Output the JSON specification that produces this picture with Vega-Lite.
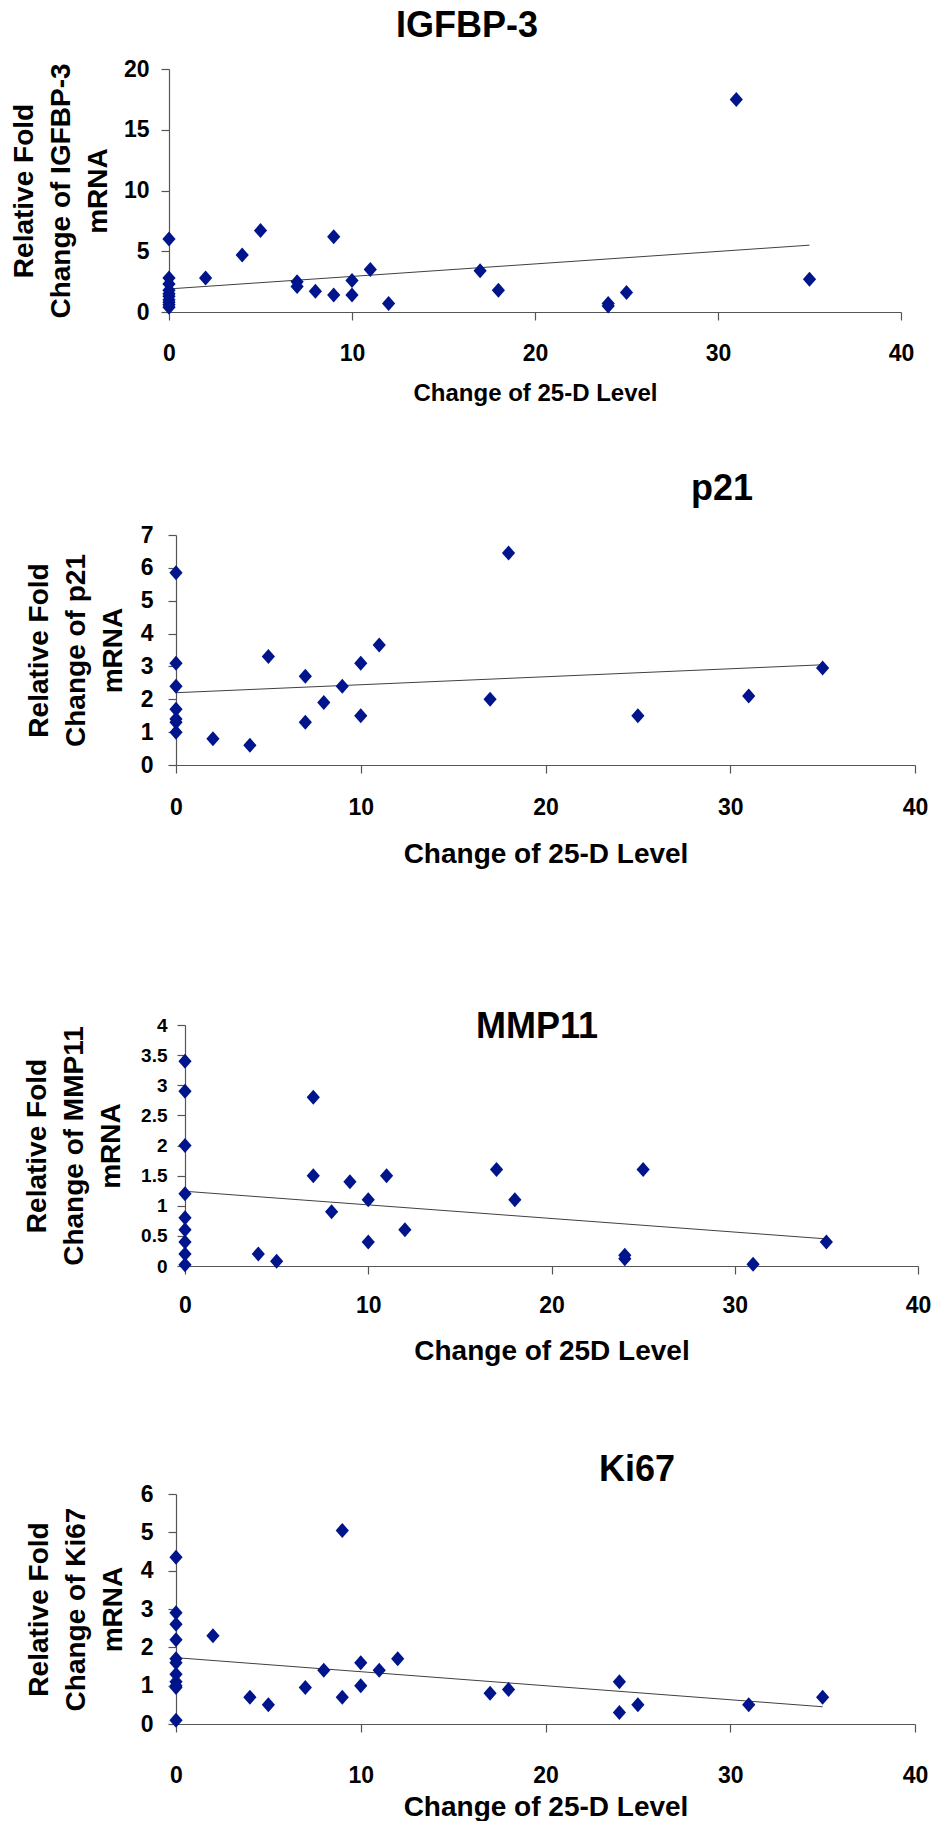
{
  "$schema": "https://vega.github.io/schema/vega-lite/v6.json",
  "background": "white",
  "padding": {"left": 10, "top": 8, "right": 0, "bottom": 0},
  "bounds": "flush",
  "spacing": 200,
  "config": {
    "view": {"stroke": null},
    "font": "Liberation Sans",
    "axis": {
      "grid": false,
      "domainColor": "#555555",
      "domainWidth": 1.2,
      "tickColor": "#555555",
      "tickWidth": 1.2,
      "tickSize": 8,
      "labelColor": "#000000",
      "titleColor": "#000000",
      "labelFont": "Liberation Sans",
      "titleFont": "Liberation Sans",
      "labelFontWeight": "bold",
      "titleFontWeight": "bold",
      "labelFlush": false,
      "labelOverlap": false
    }
  },
  "datasets": {
    "igf": [
      {"x": 0, "y": 6.0}, {"x": 0, "y": 2.8}, {"x": 0, "y": 2.3}, {"x": 0, "y": 1.8}, {"x": 0, "y": 1.5},
      {"x": 0, "y": 1.3}, {"x": 0, "y": 1.0}, {"x": 0, "y": 0.8}, {"x": 0, "y": 0.6}, {"x": 0, "y": 0.4},
      {"x": 2, "y": 2.8}, {"x": 4, "y": 4.7}, {"x": 5, "y": 6.7}, {"x": 7, "y": 2.5}, {"x": 7, "y": 2.1},
      {"x": 8, "y": 1.7}, {"x": 9, "y": 6.2}, {"x": 9, "y": 1.4}, {"x": 10, "y": 2.6}, {"x": 10, "y": 1.4},
      {"x": 11, "y": 3.5}, {"x": 12, "y": 0.7}, {"x": 17, "y": 3.4}, {"x": 18, "y": 1.8}, {"x": 24, "y": 0.7},
      {"x": 24, "y": 0.5}, {"x": 25, "y": 1.6}, {"x": 31, "y": 17.5}, {"x": 35, "y": 2.7}
    ],
    "igf_trend": [{"x": 0, "y": 1.9}, {"x": 35, "y": 5.5}],
    "p21": [
      {"x": 0, "y": 5.85}, {"x": 0, "y": 3.1}, {"x": 0, "y": 2.4}, {"x": 0, "y": 1.7}, {"x": 0, "y": 1.4},
      {"x": 0, "y": 1.3}, {"x": 0, "y": 1.0}, {"x": 2, "y": 0.8}, {"x": 4, "y": 0.6}, {"x": 5, "y": 3.3},
      {"x": 7, "y": 2.7}, {"x": 7, "y": 1.3}, {"x": 8, "y": 1.9}, {"x": 9, "y": 2.4}, {"x": 10, "y": 3.1},
      {"x": 10, "y": 1.5}, {"x": 11, "y": 3.65}, {"x": 17, "y": 2.0}, {"x": 18, "y": 6.45}, {"x": 25, "y": 1.5},
      {"x": 31, "y": 2.1}, {"x": 35, "y": 2.95}
    ],
    "p21_trend": [{"x": 0, "y": 2.2}, {"x": 35, "y": 3.05}],
    "mmp": [
      {"x": 0, "y": 3.4}, {"x": 0, "y": 2.9}, {"x": 0, "y": 2.0}, {"x": 0, "y": 1.2}, {"x": 0, "y": 0.8},
      {"x": 0, "y": 0.6}, {"x": 0, "y": 0.4}, {"x": 0, "y": 0.2}, {"x": 0, "y": 0.02}, {"x": 4, "y": 0.2},
      {"x": 5, "y": 0.08}, {"x": 7, "y": 2.8}, {"x": 7, "y": 1.5}, {"x": 8, "y": 0.9}, {"x": 9, "y": 1.4},
      {"x": 10, "y": 1.1}, {"x": 10, "y": 0.4}, {"x": 11, "y": 1.5}, {"x": 12, "y": 0.6}, {"x": 17, "y": 1.6},
      {"x": 18, "y": 1.1}, {"x": 24, "y": 0.18}, {"x": 24, "y": 0.12}, {"x": 25, "y": 1.6}, {"x": 31, "y": 0.03},
      {"x": 35, "y": 0.4}
    ],
    "mmp_trend": [{"x": 0, "y": 1.24}, {"x": 35, "y": 0.45}],
    "ki": [
      {"x": 0, "y": 4.35}, {"x": 0, "y": 2.9}, {"x": 0, "y": 2.6}, {"x": 0, "y": 2.2}, {"x": 0, "y": 1.7},
      {"x": 0, "y": 1.6}, {"x": 0, "y": 1.3}, {"x": 0, "y": 1.1}, {"x": 0, "y": 1.0}, {"x": 0, "y": 0.95},
      {"x": 0, "y": 0.1}, {"x": 2, "y": 2.3}, {"x": 4, "y": 0.7}, {"x": 5, "y": 0.5}, {"x": 7, "y": 0.95},
      {"x": 8, "y": 1.4}, {"x": 9, "y": 5.05}, {"x": 9, "y": 0.7}, {"x": 10, "y": 1.6}, {"x": 10, "y": 1.0},
      {"x": 11, "y": 1.4}, {"x": 12, "y": 1.7}, {"x": 17, "y": 0.8}, {"x": 18, "y": 0.9}, {"x": 24, "y": 1.1},
      {"x": 24, "y": 0.3}, {"x": 25, "y": 0.5}, {"x": 31, "y": 0.5}, {"x": 35, "y": 0.7}
    ],
    "ki_trend": [{"x": 0, "y": 1.73}, {"x": 35, "y": 0.45}]
  },
  "vconcat": [
    {
      "width": 750,
      "height": 243,
      "title": {"text": "IGFBP-3", "anchor": "start", "frame": "group", "dx": 227, "dy": 15, "offset": 0, "baseline": "alphabetic", "fontSize": 36, "fontWeight": "bold", "font": "Liberation Sans", "color": "#000000"},
      "encoding": {
        "x": {"field": "x", "type": "quantitative",
              "scale": {"domain": [0, 40], "range": [0, 732], "nice": false, "zero": false},
              "axis": {"values": [0, 10, 20, 30, 40], "labelFontSize": 23, "labelPadding": 40, "labelBaseline": "alphabetic",
                       "title": "Change of 25-D Level", "titleFontSize": 24, "titleBaseline": "alphabetic", "titleY": 88}},
        "y": {"field": "y", "type": "quantitative",
              "scale": {"domain": [0, 20], "range": [243, 0], "nice": false, "zero": false},
              "axis": {"values": [0, 5, 10, 15, 20], "labelFontSize": 23, "labelPadding": 12,
                       "title": ["Relative Fold", "Change of IGFBP-3", "mRNA"], "titleFontSize": 28, "titleLineHeight": 37,
                       "titleAngle": 270, "titleBaseline": "alphabetic", "titleAlign": "center", "titleX": -137}}
      },
      "layer": [
        {"data": {"name": "igf_trend"}, "mark": {"type": "line", "color": "#404040", "strokeWidth": 1}, "encoding": {}},
        {"data": {"name": "igf"}, "mark": {"type": "point", "shape": "M0,-1L0.88,0L0,1L-0.88,0Z", "filled": true, "size": 225, "color": "#00148C", "opacity": 1}, "encoding": {}}
      ]
    },
    {
      "width": 750,
      "height": 253,
      "title": {"text": "p21", "anchor": "start", "frame": "group", "dx": 522, "dy": 23.5, "offset": 0, "baseline": "alphabetic", "fontSize": 36, "fontWeight": "bold", "font": "Liberation Sans", "color": "#000000"},
      "encoding": {
        "x": {"field": "x", "type": "quantitative",
              "scale": {"domain": [0, 40], "range": [7, 746], "nice": false, "zero": false},
              "axis": {"values": [0, 10, 20, 30, 40], "labelFontSize": 23, "labelPadding": 41, "labelBaseline": "alphabetic",
                       "title": "Change of 25-D Level", "titleFontSize": 28, "titleBaseline": "alphabetic", "titleY": 97}},
        "y": {"field": "y", "type": "quantitative",
              "scale": {"domain": [0, 7], "range": [253, 23], "nice": false, "zero": false},
              "axis": {"values": [0, 1, 2, 3, 4, 5, 6, 7], "offset": -7, "labelFontSize": 23, "labelPadding": 15,
                       "title": ["Relative Fold", "Change of p21", "mRNA"], "titleFontSize": 28, "titleLineHeight": 37,
                       "titleAngle": 270, "titleBaseline": "alphabetic", "titleAlign": "center", "titleX": -129}}
      },
      "layer": [
        {"data": {"name": "p21_trend"}, "mark": {"type": "line", "color": "#404040", "strokeWidth": 1}, "encoding": {}},
        {"data": {"name": "p21"}, "mark": {"type": "point", "shape": "M0,-1L0.88,0L0,1L-0.88,0Z", "filled": true, "size": 225, "color": "#00148C", "opacity": 1}, "encoding": {}}
      ]
    },
    {
      "width": 750,
      "height": 301,
      "title": {"text": "MMP11", "anchor": "start", "frame": "group", "dx": 307, "dy": 109, "offset": 0, "baseline": "alphabetic", "fontSize": 36, "fontWeight": "bold", "font": "Liberation Sans", "color": "#000000"},
      "encoding": {
        "x": {"field": "x", "type": "quantitative",
              "scale": {"domain": [0, 40], "range": [16, 749], "nice": false, "zero": false},
              "axis": {"values": [0, 10, 20, 30, 40], "labelFontSize": 23, "labelPadding": 38, "labelBaseline": "alphabetic",
                       "title": "Change of 25D Level", "titleFontSize": 28, "titleBaseline": "alphabetic", "titleY": 93}},
        "y": {"field": "y", "type": "quantitative",
              "scale": {"domain": [0, 4], "range": [301, 60], "nice": false, "zero": false},
              "axis": {"values": [0, 0.5, 1, 1.5, 2, 2.5, 3, 3.5, 4], "format": "~g", "offset": -16, "labelFontSize": 19, "labelPadding": 10,
                       "title": ["Relative Fold", "Change of MMP11", "mRNA"], "titleFontSize": 28, "titleLineHeight": 37,
                       "titleAngle": 270, "titleBaseline": "alphabetic", "titleAlign": "center", "titleX": -140}}
      },
      "layer": [
        {"data": {"name": "mmp_trend"}, "mark": {"type": "line", "color": "#404040", "strokeWidth": 1}, "encoding": {}},
        {"data": {"name": "mmp"}, "mark": {"type": "point", "shape": "M0,-1L0.88,0L0,1L-0.88,0Z", "filled": true, "size": 225, "color": "#00148C", "opacity": 1}, "encoding": {}}
      ]
    },
    {
      "width": 750,
      "height": 258,
      "title": {"text": "Ki67", "anchor": "start", "frame": "group", "dx": 430, "dy": 51, "offset": 0, "baseline": "alphabetic", "fontSize": 36, "fontWeight": "bold", "font": "Liberation Sans", "color": "#000000"},
      "encoding": {
        "x": {"field": "x", "type": "quantitative",
              "scale": {"domain": [0, 40], "range": [7, 746], "nice": false, "zero": false},
              "axis": {"values": [0, 10, 20, 30, 40], "labelFontSize": 23, "labelPadding": 50, "labelBaseline": "alphabetic",
                       "title": "Change of 25-D Level", "titleFontSize": 28, "titleBaseline": "alphabetic", "titleY": 91}},
        "y": {"field": "y", "type": "quantitative",
              "scale": {"domain": [0, 6], "range": [258, 28], "nice": false, "zero": false},
              "axis": {"values": [0, 1, 2, 3, 4, 5, 6], "offset": -7, "labelFontSize": 23, "labelPadding": 15,
                       "title": ["Relative Fold", "Change of Ki67", "mRNA"], "titleFontSize": 28, "titleLineHeight": 37,
                       "titleAngle": 270, "titleBaseline": "alphabetic", "titleAlign": "center", "titleX": -129}}
      },
      "layer": [
        {"data": {"name": "ki_trend"}, "mark": {"type": "line", "color": "#404040", "strokeWidth": 1}, "encoding": {}},
        {"data": {"name": "ki"}, "mark": {"type": "point", "shape": "M0,-1L0.88,0L0,1L-0.88,0Z", "filled": true, "size": 225, "color": "#00148C", "opacity": 1}, "encoding": {}}
      ]
    }
  ]
}
